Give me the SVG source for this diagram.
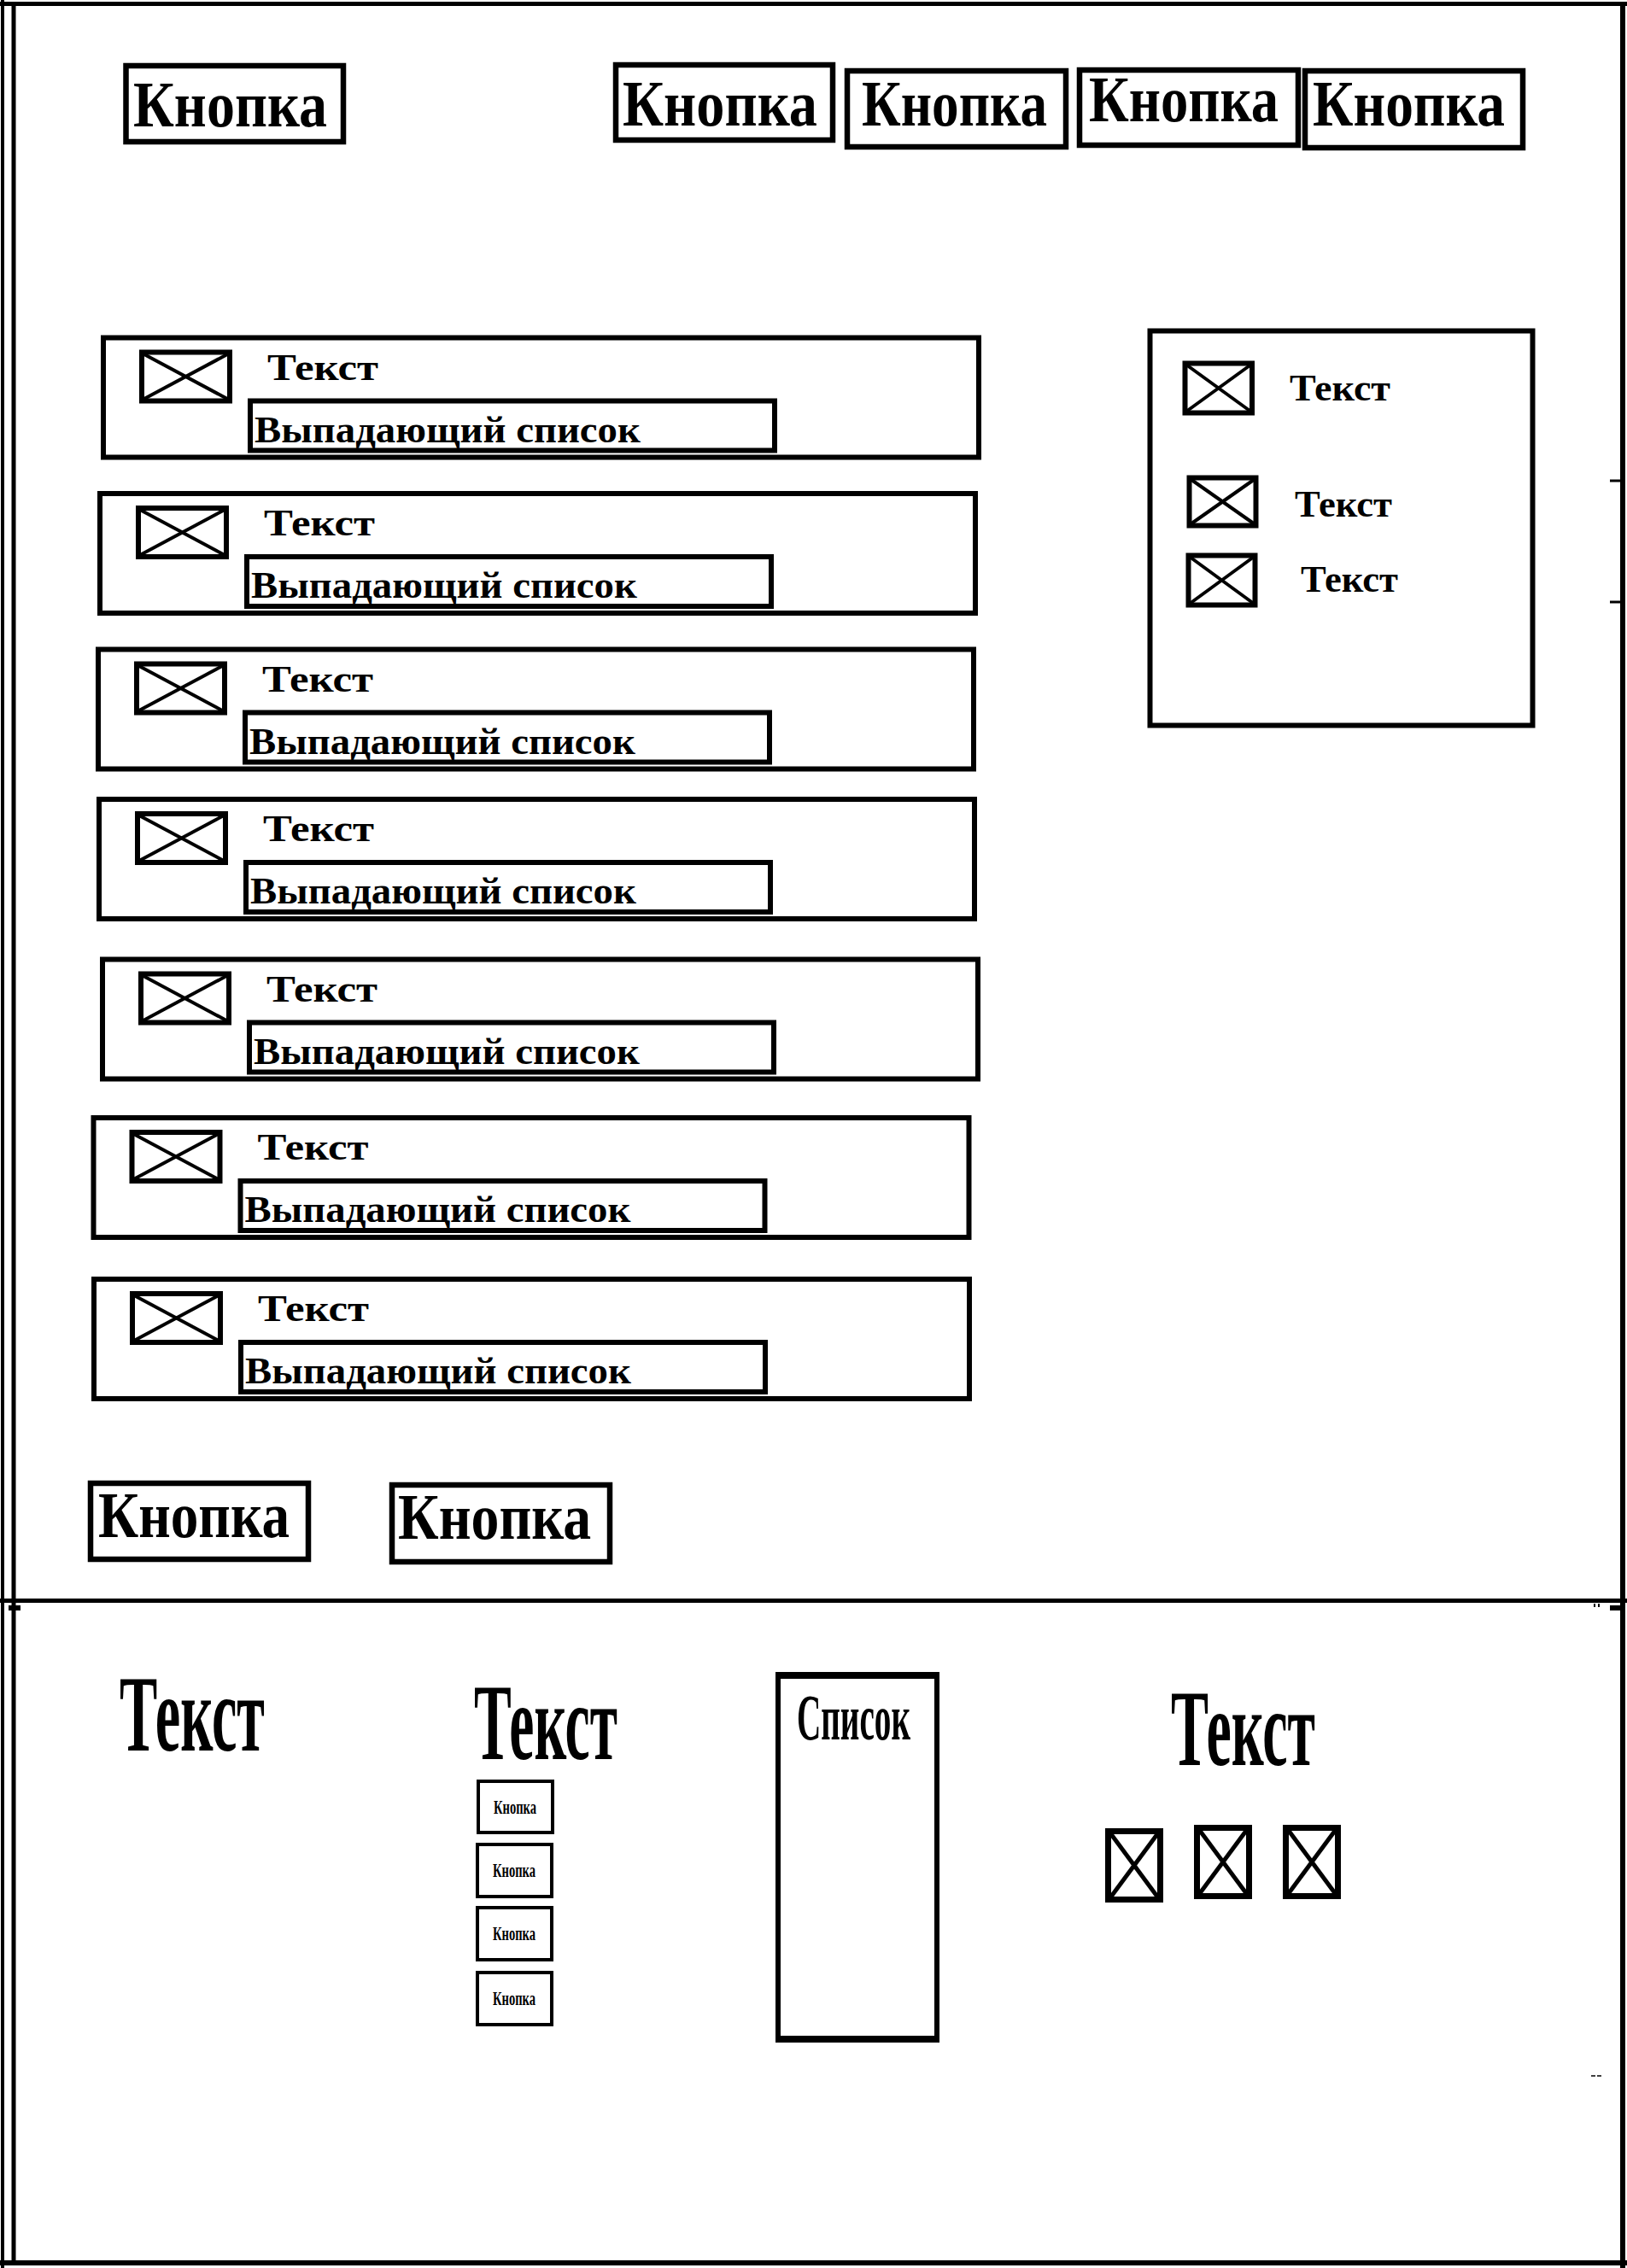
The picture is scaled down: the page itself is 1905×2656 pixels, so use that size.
<svg xmlns="http://www.w3.org/2000/svg" width="1905" height="2656" viewBox="0 0 1905 2656">
<style>
.bg{fill:#fff}
.box{fill:#fff;stroke:#000;stroke-width:6}
.btn{fill:#fff;stroke:#000;stroke-width:6.5}
.sbtn{fill:#fff;stroke:#000;stroke-width:4}
.ico{fill:#fff;stroke:#000;stroke-width:6}
.x{stroke:#000;stroke-width:4;fill:none}
.bico{fill:#fff;stroke:#000;stroke-width:7}
.bx{stroke:#000;stroke-width:5;fill:none}
.frame{stroke:#000;fill:none}
.t{font-family:"Liberation Serif","Times New Roman",serif;font-weight:bold;fill:#000}
.k{font-size:76px}
.r{font-size:45px}
.big{font-size:128px}
.sm{font-size:24px}
</style>
<rect class="bg" x="0" y="0" width="1905" height="2656"/>

<g id="frame">
  <line class="frame" x1="3" y1="0" x2="3" y2="2656" stroke-width="4"/>
  <line class="frame" x1="16" y1="2" x2="16" y2="2652" stroke-width="5"/>
  <line class="frame" x1="0" y1="4.5" x2="1905" y2="4.5" stroke-width="5"/>
  <line class="frame" x1="1900" y1="2" x2="1900" y2="2656" stroke-width="6"/>
  <line class="frame" x1="0" y1="2650" x2="1905" y2="2650" stroke-width="6"/>
  <line class="frame" x1="0" y1="1874.5" x2="1905" y2="1874.5" stroke-width="5"/>
  <line class="frame" x1="1885" y1="563" x2="1900" y2="563" stroke-width="3"/>
  <line class="frame" x1="1885" y1="705" x2="1900" y2="705" stroke-width="3"/>
  <rect x="10" y="1880" width="14" height="6" fill="#000"/>
  <rect x="1885" y="1880" width="17" height="6" fill="#000"/>
  <rect x="1866" y="1878" width="2" height="4" fill="#000"/>
  <rect x="1871" y="1878" width="2" height="4" fill="#000"/>
  <line class="frame" x1="1863" y1="2431" x2="1868" y2="2431" stroke-width="1.5"/>
  <line class="frame" x1="1870" y1="2431" x2="1875" y2="2431" stroke-width="1.5"/>
</g>

<g id="top-buttons">
  <g id="btn1"><rect class="btn" x="147.5" y="77" width="254.5" height="89"/><text class="t k" x="156" y="148" textLength="227" lengthAdjust="spacingAndGlyphs">Кнопка</text></g>
  <g id="btn2"><rect class="btn" x="721" y="76" width="254" height="88"/><text class="t k" x="729" y="147" textLength="228" lengthAdjust="spacingAndGlyphs">Кнопка</text></g>
  <g id="btn3"><rect class="btn" x="992" y="83" width="256" height="89"/><text class="t k" x="1009" y="147" textLength="217" lengthAdjust="spacingAndGlyphs">Кнопка</text></g>
  <g id="btn4"><rect class="btn" x="1264" y="82" width="256" height="88"/><text class="t k" x="1275" y="142" textLength="222" lengthAdjust="spacingAndGlyphs">Кнопка</text></g>
  <g id="btn5"><rect class="btn" x="1528" y="83" width="255" height="90"/><text class="t k" x="1537" y="147" textLength="225" lengthAdjust="spacingAndGlyphs">Кнопка</text></g>
</g>

<defs>
  <g id="rowtpl">
    <rect class="box" x="0" y="0" width="1025" height="140"/>
    <rect class="ico" x="45" y="17" width="103" height="57"/>
    <line class="x" x1="47" y1="19" x2="146" y2="72"/>
    <line class="x" x1="146" y1="19" x2="47" y2="72"/>
    <text class="t r" x="192" y="49" textLength="130" lengthAdjust="spacingAndGlyphs">Текст</text>
    <rect class="box" x="172" y="74" width="614" height="58"/>
    <text class="t r" x="177" y="122" textLength="452" lengthAdjust="spacingAndGlyphs">Выпадающий список</text>
  </g>
</defs>

<g id="row1"><use href="#rowtpl" transform="translate(121,395.5)"/></g>
<g id="row2"><use href="#rowtpl" transform="translate(117,578)"/></g>
<g id="row3"><use href="#rowtpl" transform="translate(115,760.5)"/></g>
<g id="row4"><use href="#rowtpl" transform="translate(116,936)"/></g>
<g id="row5"><use href="#rowtpl" transform="translate(120,1123.5)"/></g>
<g id="row6"><use href="#rowtpl" transform="translate(109.5,1309)"/></g>
<g id="row7"><use href="#rowtpl" transform="translate(110,1498)"/></g>

<g id="side-panel">
  <rect class="box" x="1346.5" y="387.5" width="448" height="462"/>
  <rect class="ico" x="1387.5" y="425.5" width="78.5" height="58"/>
  <line class="x" x1="1389.5" y1="427.5" x2="1464" y2="481.5"/>
  <line class="x" x1="1464" y1="427.5" x2="1389.5" y2="481.5"/>
  <text class="t r" x="1510" y="469" textLength="118" lengthAdjust="spacingAndGlyphs">Текст</text>
  <rect class="ico" x="1392.5" y="559.5" width="78" height="56"/>
  <line class="x" x1="1394.5" y1="561.5" x2="1468.5" y2="613.5"/>
  <line class="x" x1="1468.5" y1="561.5" x2="1394.5" y2="613.5"/>
  <text class="t r" x="1516" y="605" textLength="114" lengthAdjust="spacingAndGlyphs">Текст</text>
  <rect class="ico" x="1391.5" y="650.5" width="78" height="58"/>
  <line class="x" x1="1393.5" y1="652.5" x2="1467.5" y2="706.5"/>
  <line class="x" x1="1467.5" y1="652.5" x2="1393.5" y2="706.5"/>
  <text class="t r" x="1523" y="693" textLength="114" lengthAdjust="spacingAndGlyphs">Текст</text>
</g>

<g id="bottom-buttons">
  <g id="btn6"><rect class="btn" x="106" y="1737" width="255" height="89"/><text class="t k" x="115" y="1800" font-size="72" textLength="224" lengthAdjust="spacingAndGlyphs">Кнопка</text></g>
  <g id="btn7"><rect class="btn" x="459" y="1739" width="255" height="90"/><text class="t k" x="466" y="1802" font-size="72" textLength="226" lengthAdjust="spacingAndGlyphs">Кнопка</text></g>
</g>

<g id="text-left"><text class="t big" x="140" y="2050" textLength="170" lengthAdjust="spacingAndGlyphs">Текст</text></g>

<g id="button-column">
  <text class="t big" x="555" y="2060" textLength="168" lengthAdjust="spacingAndGlyphs">Текст</text>
  <g id="sbtn1"><rect class="sbtn" x="560" y="2086" width="87" height="60"/><text class="t sm" x="578" y="2124" textLength="50" lengthAdjust="spacingAndGlyphs">Кнопка</text></g>
  <g id="sbtn2"><rect class="sbtn" x="559" y="2160" width="87" height="61"/><text class="t sm" x="577" y="2198" textLength="50" lengthAdjust="spacingAndGlyphs">Кнопка</text></g>
  <g id="sbtn3"><rect class="sbtn" x="559" y="2234" width="87" height="61"/><text class="t sm" x="577" y="2272" textLength="50" lengthAdjust="spacingAndGlyphs">Кнопка</text></g>
  <g id="sbtn4"><rect class="sbtn" x="559" y="2310" width="87" height="61"/><text class="t sm" x="577" y="2348" textLength="50" lengthAdjust="spacingAndGlyphs">Кнопка</text></g>
</g>

<g id="list">
  <rect class="box" x="911" y="1962" width="186" height="427"/>
  <line class="frame" x1="908" y1="1962" x2="1100" y2="1962" stroke-width="8"/>
  <line class="frame" x1="908" y1="2388" x2="1100" y2="2388" stroke-width="8"/>
  <text class="t" x="933" y="2037" font-size="76" textLength="133" lengthAdjust="spacingAndGlyphs">Список</text>
</g>

<g id="checkbox-group">
  <text class="t big" x="1371" y="2067" textLength="169" lengthAdjust="spacingAndGlyphs">Текст</text>
  <rect class="bico" x="1297.5" y="2144.5" width="61" height="80"/>
  <line class="bx" x1="1301" y1="2148" x2="1355" y2="2221"/>
  <line class="bx" x1="1355" y1="2148" x2="1301" y2="2221"/>
  <rect class="bico" x="1401.5" y="2140.5" width="61" height="80"/>
  <line class="bx" x1="1405" y1="2144" x2="1459" y2="2217"/>
  <line class="bx" x1="1459" y1="2144" x2="1405" y2="2217"/>
  <rect class="bico" x="1505.5" y="2140.5" width="61" height="80"/>
  <line class="bx" x1="1509" y1="2144" x2="1563" y2="2217"/>
  <line class="bx" x1="1563" y1="2144" x2="1509" y2="2217"/>
</g>

<g id="connectors"></g>
</svg>
